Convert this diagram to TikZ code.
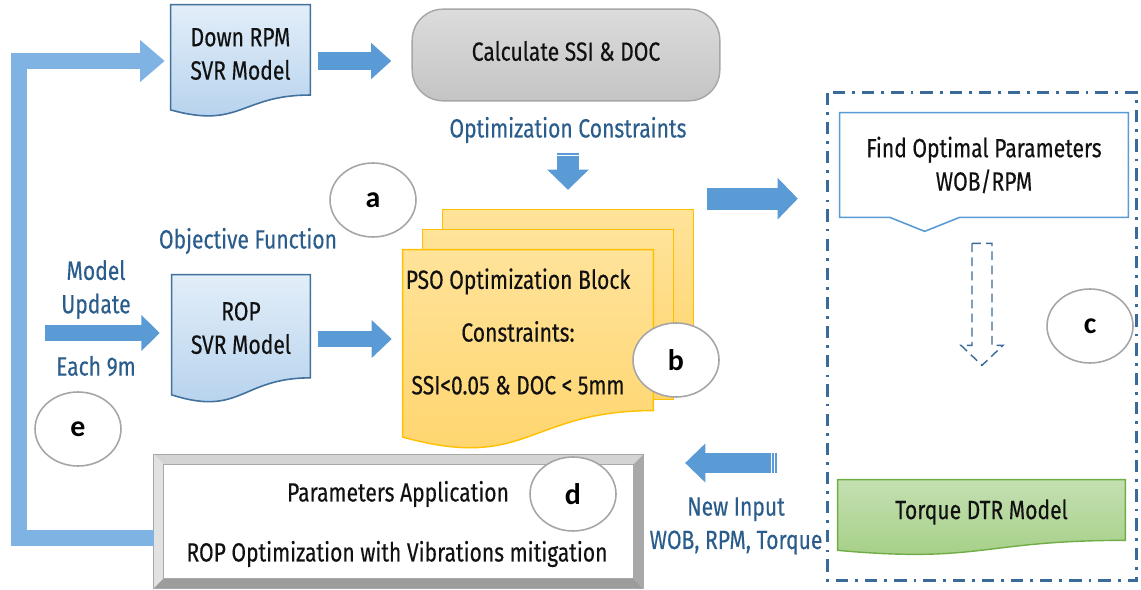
\documentclass[tikz,border=0pt]{standalone}
\usepackage{fontspec}
\setmainfont{Fira Sans}[FakeStretch=0.8,FakeBold=0.3]
\newfontfamily\tagfont{Carlito}
\usetikzlibrary{arrows.meta,backgrounds,calc,positioning,shapes.geometric}
\definecolor{ink}{HTML}{111111}
\definecolor{labelBlue}{HTML}{2B5D8C}
\definecolor{docTop}{HTML}{E2EEF9}
\definecolor{docBottom}{HTML}{B3D0EC}
\definecolor{docLine}{HTML}{41719C}
\definecolor{pillTop}{HTML}{DCDCDC}
\definecolor{pillBottom}{HTML}{C4C4C4}
\definecolor{pillLine}{HTML}{A6A6A6}
\definecolor{psoTop}{HTML}{FFE39A}
\definecolor{psoBottom}{HTML}{FFD46A}
\definecolor{psoLine}{HTML}{FFC000}
\definecolor{dtrTop}{HTML}{C4E0B2}
\definecolor{dtrBottom}{HTML}{A3CE84}
\definecolor{dtrLine}{HTML}{70AD47}
\definecolor{arrowBlue}{HTML}{5B9BD5}
\definecolor{loopBlue}{HTML}{7FB3E3}
\definecolor{frameBlue}{HTML}{3A6A99}
\definecolor{tagLine}{HTML}{A6A6A6}
\definecolor{bevelTop}{HTML}{D4D4D4}
\definecolor{bevelLeft}{HTML}{E2E2E2}
\definecolor{bevelRight}{HTML}{A8A8A8}
\definecolor{bevelBottom}{HTML}{9C9C9C}
% document outline with a wavy bottom edge
\newcommand{\docpath}[1]{(#1.north west) -- (#1.north east)
  -- ($(#1.north east)!0.802!(#1.south east)$)
  .. controls ($(#1.north)!0.802!(#1.south)$) and ($(#1.north)!1.107!(#1.south)$)
  .. ($(#1.north west)!0.934!(#1.south west)$) -- cycle}
\tikzset{
  shape box/.style={
    draw=none,
    inner sep=0pt
  },
  doc text/.style={
    font=\fontsize{15}{19}\selectfont,
    text=ink,
    align=center
  },
  blue text/.style={
    font=\fontsize{15}{19}\selectfont,
    text=labelBlue,
    align=center
  },
  model doc/.style={
    draw=docLine,
    line width=0.9pt,
    top color=docTop,
    bottom color=docBottom
  },
  pso sheet/.style={
    draw=psoLine,
    line width=0.8pt,
    top color=psoTop,
    bottom color=psoBottom
  },
  dtr doc/.style={
    draw=dtrLine,
    line width=0.8pt,
    top color=dtrTop,
    bottom color=dtrBottom
  },
  tag/.style={
    ellipse,
    draw=tagLine,
    fill=white,
    line width=0.9pt,
    minimum width=1.72cm,
    minimum height=1.48cm,
    inner sep=0pt,
    font=\tagfont\bfseries\fontsize{17}{17}\selectfont,
    text=black
  },
  flow arrow/.style n args={3}{
    draw=arrowBlue,
    line width=#1,
    -{Triangle[length=#3,width=#2]}
  },
  hint arrow/.style={
    draw=frameBlue,
    dashed,
    dash pattern=on 5pt off 3pt,
    line width=0.8pt
  },
  stripe/.style={
    draw=white,
    line width=0.5pt
  }
}

\begin{document}
\begin{tikzpicture}[x=0.02cm,y=-0.02cm]
  \useasboundingbox (0,0) rectangle (1141,590);

  % boxes
  \node[shape box,minimum width=2.78cm,minimum height=2.24cm,
        label={[doc text,yshift=0.14cm]center:Down RPM\\SVR Model}] (downrpm) at (240.5,61) {};
  \node[shape box,minimum width=6.14cm,minimum height=1.82cm] (calc) at (566,55) {};
  \node[shape box,minimum width=2.76cm,minimum height=2.56cm,
        label={[doc text,yshift=0.22cm]center:ROP\\SVR Model}] (rop) at (241,339) {};
  \node[shape box,minimum width=5cm,minimum height=4cm] (pso) at (528,350) {};
  \node[shape box,minimum width=6.16cm,minimum height=9.74cm] (tuning) at (982,336.5) {};
  \node[shape box,minimum width=5.76cm,minimum height=2.08cm] (find) at (984,165) {};
  \node[shape box,minimum width=5.74cm,minimum height=1.5cm,
        label={[doc text,yshift=0.11cm]center:Torque DTR Model}] (torque) at (981.5,517.5) {};
  \node[shape box,minimum width=9.78cm,minimum height=2.66cm] (params) at (398.5,521.5) {};

  \begin{scope}[on background layer]
    \fill[white] (0,0) rectangle (1141,590);
    \path[model doc] \docpath{downrpm};
    \path[model doc] \docpath{rop};
    \path[draw=pillLine,line width=0.8pt,top color=pillTop,bottom color=pillBottom,rounded corners=0.62cm]
      (calc.north west) rectangle (calc.south east);
    % stacked sheets behind the PSO block
    \path[pso sheet] ($(pso.north west)+(40,-40)$) rectangle ($(pso.north east)+(40,130)$);
    \path[pso sheet] ($(pso.north west)+(20,-20)$) rectangle ($(pso.north east)+(20,150)$);
    \path[pso sheet] \docpath{pso};
    \path[dtr doc] \docpath{torque};
    % bevelled frame
    \fill[bevelTop] (params.north west) -- (params.north east) -- ($(params.north east)+(-10,10)$) -- ($(params.north west)+(10,10)$) -- cycle;
    \fill[bevelLeft] (params.north west) -- (params.south west) -- ($(params.south west)+(10,-10)$) -- ($(params.north west)+(10,10)$) -- cycle;
    \fill[bevelRight] (params.north east) -- (params.south east) -- ($(params.south east)+(-10,-10)$) -- ($(params.north east)+(-10,10)$) -- cycle;
    \fill[bevelBottom] (params.south west) -- (params.south east) -- ($(params.south east)+(-10,-10)$) -- ($(params.south west)+(10,-10)$) -- cycle;
    \draw[bevelRight,line width=0.6pt] (params.north west) rectangle (params.south east);
    \draw[bevelRight,line width=0.6pt,fill=white] ($(params.north west)+(10,10)$) rectangle ($(params.south east)+(-10,-10)$);
  \end{scope}

  \draw[frameBlue,line width=1.7pt,dash pattern=on 7pt off 4pt on 1.6pt off 4pt]
    (tuning.north west) rectangle (tuning.south east);
  \draw[draw=arrowBlue,line width=0.9pt,fill=white]
    (find.north west) -- (find.north east) -- (find.south east) -- ($(find.south west)+(120,0)$)
    -- ($(find.south west)+(85,14)$) -- ($(find.south west)+(50,0)$) -- (find.south west) -- cycle;

  % texts
  \node[doc text] (calc-text) at (566,51) {Calculate SSI \& DOC};
  \node[doc text] (find-text) at (984,165) {Find Optimal Parameters\\WOB/RPM};
  \node[doc text] (pso-text) at (518,331.5) {PSO Optimization Block\\[11pt]Constraints:\\[11pt]SSI<0.05 \& DOC < 5mm};
  \node[doc text] (apply-text) at (398,494) {Parameters Application};
  \node[doc text] (goal-text) at (397,554) {ROP Optimization with Vibrations mitigation};
  \node[blue text] (constraints) at (568,130) {Optimization Constraints};
  \node[blue text] (objective) at (248,241) {Objective Function};
  \node[blue text] (update) at (96,289.5) {Model\\Update};
  \node[blue text] (interval) at (96,366) {Each 9m};
  \node[blue text,align=center] (new-input) at (736,526) {New Input\\WOB, RPM, Torque};

  % labels
  \node[tag] (tag-a) at (373,200) {a};
  \node[tag] (tag-b) at (676,360) {b};
  \node[tag] (tag-c) at (1090,326) {c};
  \node[tag] (tag-d) at (573,494) {d};
  \node[tag] (tag-e) at (78,429) {e};

  % block arrows
  \coordinate (update-tail) at (45,333);
  \coordinate (stack-east) at ($(pso.north east)+(40,-51)$);
  \coordinate (input-tail) at (777,463);
  \draw[flow arrow={10pt}{20pt}{11.5pt},shorten <=4.5pt,shorten >=11.9pt]
    (downrpm.east) -- (downrpm.east -| calc.west);
  \draw[flow arrow={12pt}{23pt}{11.5pt},shorten <=1.5pt,shorten >=11.3pt]
    (constraints.south) -- ($(pso.north)+(40,-40)$);
  \draw[flow arrow={9.6pt}{21pt}{11.5pt},shorten <=4.5pt,shorten >=6.2pt]
    (rop.east) -- (rop.east -| pso.west);
  \draw[flow arrow={9.6pt}{20pt}{10.5pt},shorten >=6.8pt]
    (update-tail) -- (update-tail -| rop.west);
  \draw[flow arrow={12.5pt}{23pt}{11.5pt},shorten <=7.9pt,shorten >=17pt]
    (stack-east) -- (stack-east -| tuning.west);
  \draw[flow arrow={11.5pt}{21.5pt}{11.5pt},shorten >=23.8pt]
    (input-tail) -- (input-tail -| params.east);
  \draw[draw=loopBlue,line width=8.8pt,-{Triangle[length=14pt,width=23pt]},shorten >=3.4pt]
    ($(params.west)+(0,16.5)$) -- ++(-134.5,0) |- (downrpm.west);

  % stripes at the tails of the striped arrows
  \foreach \dy in {3,6} {
    \draw[stripe] ($(constraints.south)+(-11,\dy)$) -- ++(22,0);
  }
  \foreach \dx in {-3,-6} {
    \draw[stripe] ($(input-tail)+(\dx,-10)$) -- ++(0,20);
  }

  % open dashed arrow
  \draw[hint arrow] ($(find.south)+(-12,26)$) -- ++(20,0) -- ++(0,102) -- ++(11,0)
    -- ++(-21,20) -- ++(-21,-20) -- ++(11,0) -- cycle;
\end{tikzpicture}
\end{document}
